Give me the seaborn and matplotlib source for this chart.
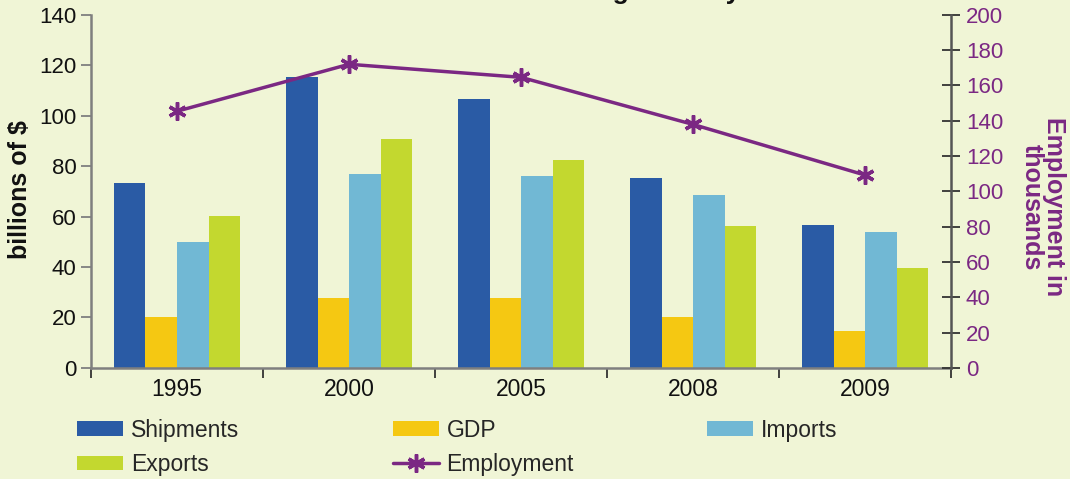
import numpy as np
import pandas as pd
import matplotlib.pyplot as plt
import seaborn as sns

years = ["1995", "2000", "2005", "2008", "2009"]
shipments = [73.4, 115.4, 106.7, 75.4, 56.7]
gdp = [20.2, 27.8, 27.8, 20.2, 14.7]
imports = [50.0, 77.0, 76.2, 68.6, 54.0]
exports = [60.3, 90.8, 82.5, 56.3, 39.7]
employment = [145.4, 172.0, 164.6, 137.9, 109.2]

series_names = ["Shipments", "GDP", "Imports", "Exports"]
colors = ["#2a5ba5", "#f5c812", "#71b8d4", "#c3d82f"]
purple = "#7b2883"
bg = "#f0f5d6"

df = pd.DataFrame({
    "year": np.repeat(years, 4),
    "series": series_names * len(years),
    "value": np.ravel(np.column_stack([shipments, gdp, imports, exports])),
})

sns.set_style("ticks")
plt.rcParams["font.family"] = ["Liberation Sans", "DejaVu Sans"]

fig = plt.figure(figsize=(10.7, 4.79), dpi=100, facecolor=bg)
ax = fig.add_axes([0.085, 0.232, 0.804, 0.737])
ax.set_facecolor(bg)

sns.barplot(data=df, x="year", y="value", hue="series", order=years,
            hue_order=series_names, palette=colors, saturation=1,
            width=0.733, gap=0, errorbar=None, ax=ax, linewidth=0)
bar_handles, bar_labels = ax.get_legend_handles_labels()
ax.get_legend().remove()

ax.set_xlim(-0.5, len(years) - 0.5)
ax.set_ylim(0, 140)
ax.set_yticks(np.arange(0, 141, 20))
ax.set_xlabel("")
ax.set_ylabel("billions of $", fontsize=18, fontweight="bold", color="#111111")
ax.yaxis.set_label_coords(-0.068, 0.505)

ax.set_xticks(np.arange(-0.5, len(years), 1), minor=True)
ax.tick_params(axis="x", which="major", length=0, labelsize=16.5, pad=7, labelcolor="#111111")
ax.tick_params(axis="x", which="minor", length=7, width=1.3, color="#333333", direction="out")
ax.tick_params(axis="y", length=7, width=1.3, color="#7f7f7f", labelsize=16, labelcolor="#111111")
for side in ["left", "bottom"]:
    ax.spines[side].set_color("#7f7f7f")
    ax.spines[side].set_linewidth(1.8)
ax.spines["top"].set_visible(False)
ax.spines["right"].set_visible(False)

ax2 = ax.twinx()
emp_df = pd.DataFrame({"pos": np.arange(len(years)), "employment": employment})
sns.lineplot(data=emp_df, x="pos", y="employment", ax=ax2, color=purple,
             linewidth=2.5, marker=(6, 2, 0), markersize=13, markeredgewidth=2.5,
             markeredgecolor=purple, label="Employment", legend=False)
ax2.set_ylim(0, 200)
ax2.set_yticks(np.arange(0, 201, 20))
ax2.set_ylabel("")
ax2.tick_params(axis="y", direction="inout", length=13, width=1.3, color="#333333",
                labelsize=16, labelcolor=purple, pad=4)
ax2.spines["right"].set_color("#555555")
ax2.spines["right"].set_linewidth(1.8)
for side in ["top", "left", "bottom"]:
    ax2.spines[side].set_visible(False)
ax2.set_xlim(-0.5, len(years) - 0.5)

fig.text(1043 / 1070, 1 - 207 / 479, "Employment in\nthousands", rotation=270,
         ha="center", va="center", multialignment="center", fontsize=18,
         fontweight="bold", color=purple, linespacing=0.9)

# title sits mostly above the visible canvas, as in the reference
fig.text(740 / 1070, 1.002, "Manufacturing Industry", ha="right", va="baseline",
         fontsize=19, fontweight="bold", color="#111111")

line_handle = ax2.get_lines()[0]
handle_map = dict(zip(bar_labels, bar_handles))
handle_map["Employment"] = line_handle
columns = [["Shipments", "Exports"], ["GDP", "Employment"], ["Imports"]]
col_x = [0.072, 0.367, 0.661]
for names, x in zip(columns, col_x):
    fig.legend([handle_map[n] for n in names], names, loc="upper left",
               bbox_to_anchor=(x, 0.126), frameon=False, fontsize=16.5,
               handlelength=2.0, handleheight=0.6, handletextpad=0.35,
               labelspacing=0.5, borderaxespad=0, borderpad=0, numpoints=1)

fig.savefig("out.png", dpi=100, facecolor=bg)
